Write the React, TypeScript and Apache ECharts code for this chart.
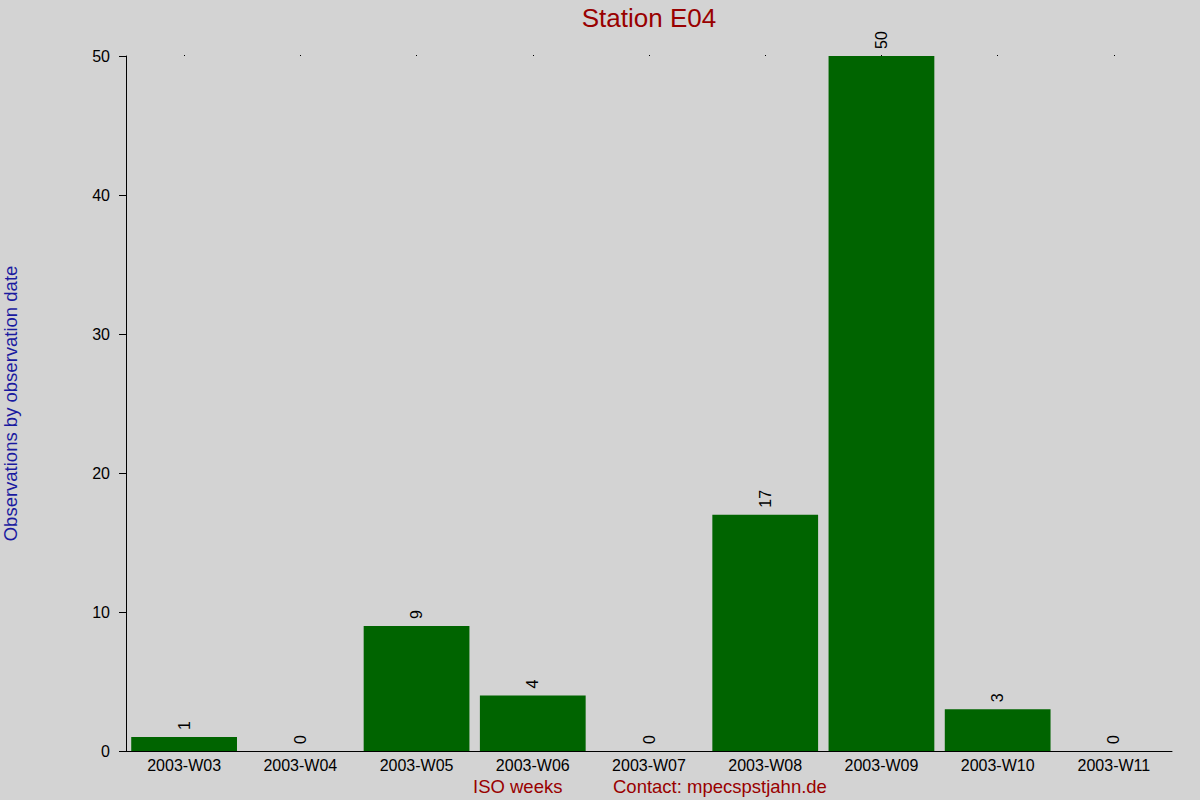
import { useEffect, useRef } from "react";
import * as echarts from "echarts";

const weeks = [
  "2003-W03",
  "2003-W04",
  "2003-W05",
  "2003-W06",
  "2003-W07",
  "2003-W08",
  "2003-W09",
  "2003-W10",
  "2003-W11",
];
const observations = [1, 0, 9, 4, 0, 17, 50, 3, 0];
const yTicks = { min: 0, max: 50, interval: 10 };

const FONT = "Liberation Sans, Arial, sans-serif";

export default function App() {
  const ref = useRef<HTMLDivElement | null>(null);

  useEffect(() => {
    document.body.style.margin = "0";
    if (!ref.current) return;
    const chart = echarts.init(ref.current, null, { renderer: "svg" });
    chart.setOption({
      animation: false,
      backgroundColor: "#d3d3d3",
      textStyle: { fontFamily: FONT },
      grid: { left: 126, right: 28, top: 56, bottom: 49, outerBoundsMode: "none", containLabel: false },
      xAxis: [
        {
          type: "category",
          data: weeks,
          axisLine: { lineStyle: { color: "#000", width: 1 } },
          axisTick: { show: false },
          axisLabel: { color: "#000", fontSize: 16, margin: 6, fontFamily: FONT, interval: 0 },
        },
        {
          // tiny dots at the top edge, one per category
          type: "category",
          data: weeks,
          position: "top",
          axisLine: { show: false },
          axisTick: { show: true, alignWithLabel: true, length: 1, lineStyle: { color: "#000" } },
          axisLabel: { show: false },
        },
      ],
      yAxis: {
        type: "value",
        min: yTicks.min,
        max: yTicks.max,
        interval: yTicks.interval,
        name: "Observations by observation date",
        nameLocation: "middle",
        nameGap: 106,
        nameTextStyle: { color: "#1a1aa0", fontSize: 18.5, fontFamily: FONT },
        splitLine: { show: false },
        axisLine: { show: true, lineStyle: { color: "#000", width: 1 } },
        axisTick: { show: true, length: 7, lineStyle: { color: "#000" } },
        axisLabel: { color: "#000", fontSize: 16, margin: 16, fontFamily: FONT },
      },
      series: [
        {
          type: "bar",
          data: observations,
          barCategoryGap: "9%",
          itemStyle: { color: "#006400" },
          label: {
            show: true,
            position: "top",
            rotate: 90,
            align: "left",
            verticalAlign: "middle",
            distance: 7,
            color: "#000",
            fontSize: 16,
            fontFamily: FONT,
          },
        },
      ],
      graphic: [
        {
          type: "text",
          x: 649,
          y: 18,
          style: {
            text: "Station E04",
            fill: "#990000",
            fontSize: 26,
            fontFamily: FONT,
            align: "center",
            verticalAlign: "middle",
          },
        },
        {
          type: "text",
          x: 473,
          y: 786,
          style: { text: "ISO weeks", fill: "#990000", fontSize: 18.5, fontFamily: FONT, verticalAlign: "middle" },
        },
        {
          type: "text",
          x: 613,
          y: 786,
          style: {
            text: "Contact: mpecspstjahn.de",
            fill: "#990000",
            fontSize: 18.5,
            fontFamily: FONT,
            verticalAlign: "middle",
          },
        },
      ],
    });
    return () => chart.dispose();
  }, []);

  return <div ref={ref} style={{ width: 1200, height: 800 }} />;
}
